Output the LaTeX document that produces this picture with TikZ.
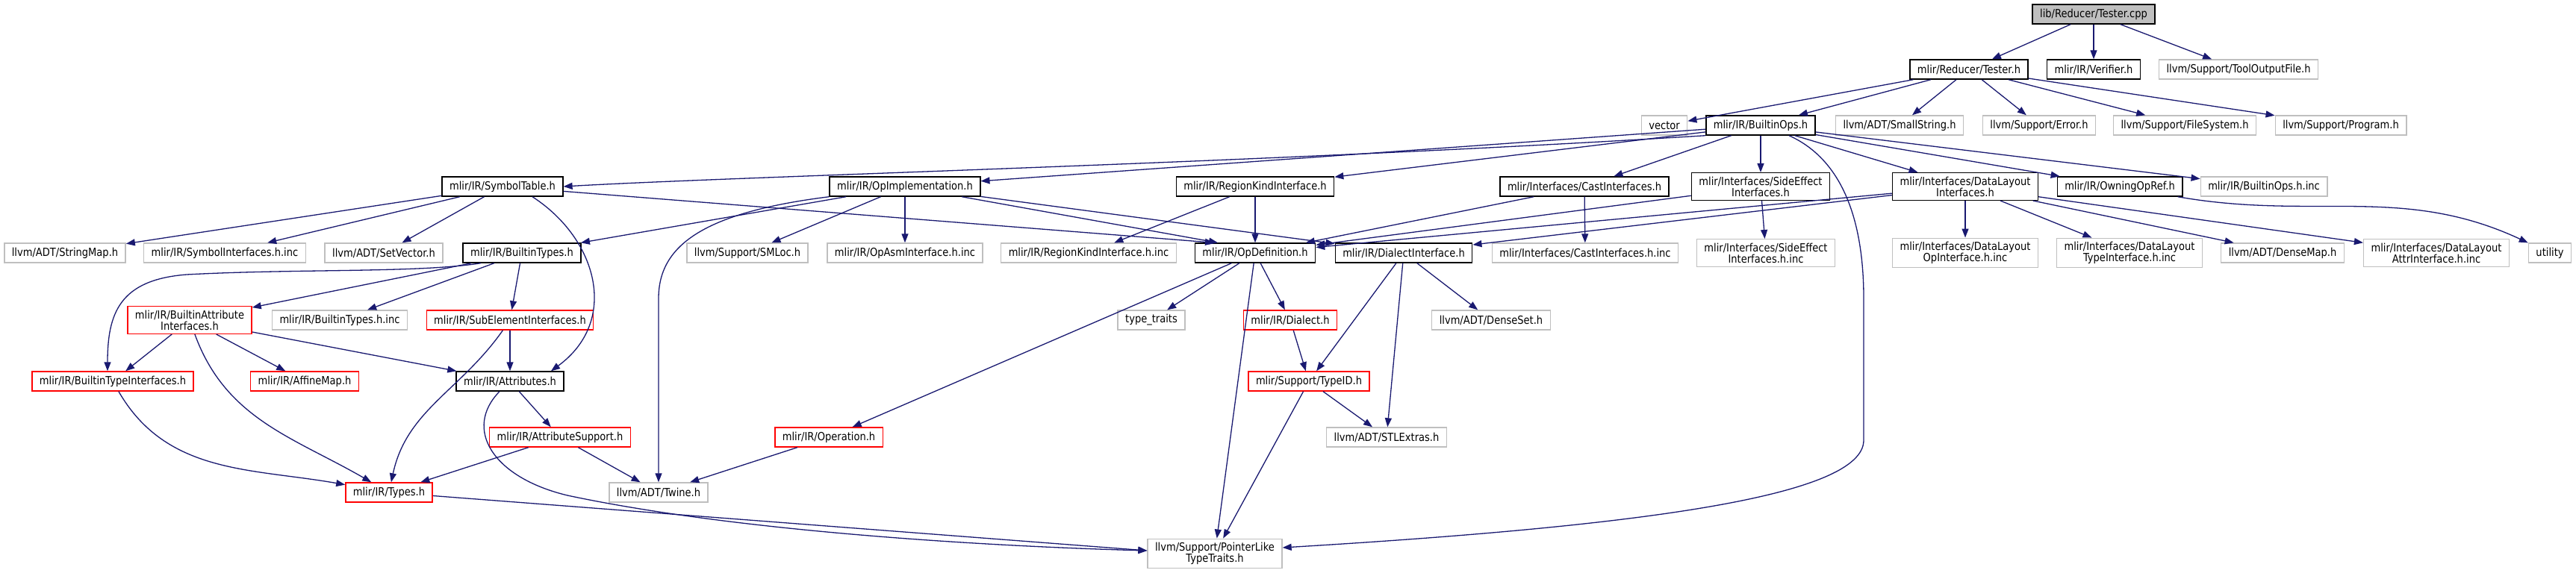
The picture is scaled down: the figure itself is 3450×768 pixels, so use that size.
\documentclass[tikz,border=0pt]{standalone}
\usepackage{fontspec}
\setmainfont{DejaVu Sans}[FakeStretch=0.87]
\usepackage{xcolor}
\usepackage{tikz}
\usetikzlibrary{arrows, arrows.meta, positioning, calc}
\definecolor{edgeblue}{HTML}{191970}
\definecolor{sysgray}{HTML}{BFBFBF}

\begin{document}
\begin{tikzpicture}[x=1pt, y=-1pt,
    fbox/.style={draw, fill=white, line width=1.4pt, minimum height=26pt, inner xsep=10pt, inner ysep=5pt, align=center, font=\fontsize{15}{15}\selectfont},
    docf/.style={fbox, draw=black},
    sysf/.style={fbox, draw=sysgray},
    truncf/.style={fbox, draw=red},
    mainf/.style={fbox, draw=black, fill=sysgray},
    dep/.style={draw=edgeblue, line width=1.3pt, -{Triangle[length=12pt,width=9pt]}}]

\useasboundingbox (0,0) rectangle (3450,768);

\node [mainf] (tcpp) at (2804,19) {lib/Reducer/Tester.cpp};

\node [docf] (testh) at (2637,93) {mlir/Reducer/Tester.h};
\node [docf] (verif) at (2804,93) {mlir/IR/Verifier.h};
\node [sysf] (toolout) at (2998,93) {llvm/Support/ToolOutputFile.h};

\node [sysf] (vec) at (2229,168) {vector};
\node [docf] (bops) at (2358,168) {mlir/IR/BuiltinOps.h};
\node [sysf] (smallstr) at (2544,168) {llvm/ADT/SmallString.h};
\node [sysf] (err) at (2731,168) {llvm/Support/Error.h};
\node [sysf] (filesys) at (2926,168) {llvm/Support/FileSystem.h};
\node [sysf] (prog) at (3135,168) {llvm/Support/Program.h};

\node [docf] (symt) at (673,250) {mlir/IR/SymbolTable.h};
\node [docf] (opimpl) at (1212,250) {mlir/IR/OpImplementation.h};
\node [docf] (regkind) at (1681,250) {mlir/IR/RegionKindInterface.h};
\node [docf] (cast) at (2122,250) {mlir/Interfaces/CastInterfaces.h};
\node [docf] (sideeff) at (2358,250) {mlir/Interfaces/SideEffect\\Interfaces.h};
\node [docf] (dlayout) at (2632,250) {mlir/Interfaces/DataLayout\\Interfaces.h};
\node [docf] (owning) at (2839,250) {mlir/IR/OwningOpRef.h};
\node [sysf] (bopsinc) at (3032,250) {mlir/IR/BuiltinOps.h.inc};

\node [sysf] (strmap) at (87,339) {llvm/ADT/StringMap.h};
\node [sysf] (syminc) at (301,339) {mlir/IR/SymbolInterfaces.h.inc};
\node [sysf] (setvec) at (514,339) {llvm/ADT/SetVector.h};
\node [docf] (btypes) at (699,339) {mlir/IR/BuiltinTypes.h};
\node [sysf] (smloc) at (1001,339) {llvm/Support/SMLoc.h};
\node [sysf] (asminc) at (1212,339) {mlir/IR/OpAsmInterface.h.inc};
\node [sysf] (reginc) at (1458,339) {mlir/IR/RegionKindInterface.h.inc};
\node [docf] (opdef) at (1681,339) {mlir/IR/OpDefinition.h};
\node [docf] (dialif) at (1880,339) {mlir/IR/DialectInterface.h};
\node [sysf] (castinc) at (2123,339) {mlir/Interfaces/CastInterfaces.h.inc};
\node [sysf] (sideinc) at (2365,339) {mlir/Interfaces/SideEffect\\Interfaces.h.inc};
\node [sysf] (dlopinc) at (2632,339) {mlir/Interfaces/DataLayout\\OpInterface.h.inc};
\node [sysf] (dltyinc) at (2852,339) {mlir/Interfaces/DataLayout\\TypeInterface.h.inc};
\node [sysf] (densemap) at (3057,339) {llvm/ADT/DenseMap.h};
\node [sysf] (dlatinc) at (3263,339) {mlir/Interfaces/DataLayout\\AttrInterface.h.inc};
\node [sysf] (util) at (3415,339) {utility};

\node [truncf] (battrif) at (254,429) {mlir/IR/BuiltinAttribute\\Interfaces.h};
\node [sysf] (btypesinc) at (455,429) {mlir/IR/BuiltinTypes.h.inc};
\node [truncf] (subelem) at (683,429) {mlir/IR/SubElementInterfaces.h};
\node [sysf] (ttraits) at (1542,429) {type\_traits};
\node [truncf] (dialect) at (1728,429) {mlir/IR/Dialect.h};
\node [sysf] (denseset) at (1997,429) {llvm/ADT/DenseSet.h};

\node [truncf] (btyif) at (151,511) {mlir/IR/BuiltinTypeInterfaces.h};
\node [truncf] (affine) at (408,511) {mlir/IR/AffineMap.h};
\node [docf] (attrs) at (683,511) {mlir/IR/Attributes.h};
\node [truncf] (typeid) at (1753,511) {mlir/Support/TypeID.h};

\node [truncf] (attrsup) at (750,586) {mlir/IR/AttributeSupport.h};
\node [truncf] (operation) at (1110,586) {mlir/IR/Operation.h};
\node [sysf] (stlext) at (1857,586) {llvm/ADT/STLExtras.h};

\node [truncf] (types) at (521,660) {mlir/IR/Types.h};
\node [sysf] (twine) at (882,660) {llvm/ADT/Twine.h};

\node [sysf] (ptrlike) at (1627,742) {llvm/Support/PointerLike\\TypeTraits.h};

\draw [dep] (tcpp) to (testh);
\draw [dep] (tcpp) to (verif);
\draw [dep] (tcpp) to (toolout);

\draw [dep] (testh) to (vec);
\draw [dep] (testh) to (bops);
\draw [dep] (testh) to (smallstr);
\draw [dep] (testh) to (err);
\draw [dep] (testh) to (filesys);
\draw [dep] (testh) to (prog);

\draw [dep] (bops.south west) .. controls (1700,218) and (1000,236) .. (symt.east);
\draw [dep] (bops) to (opimpl);
\draw [dep] (bops) to (regkind);
\draw [dep] (bops) to (cast);
\draw [dep] (bops) to (sideeff);
\draw [dep] (bops) to (dlayout);
\draw [dep] (bops) to (owning);
\draw [dep] (bops) to (bopsinc);
\draw [dep] ([xshift=38pt]bops.south) .. controls (2470,215) and (2496,300) .. (2496,400) -- (2496,590) .. controls (2496,665) and (2200,705) .. ([yshift=8pt]ptrlike.east);

\draw [dep] (symt) to (strmap);
\draw [dep] (symt) to (syminc);
\draw [dep] (symt) to (setvec);
\draw [dep] (symt) to ([xshift=-55pt]opdef.north);
\draw [dep] ([xshift=40pt]symt.south) .. controls (800,320) and (830,430) .. ([xshift=55pt]attrs.north);

\draw [dep] (opimpl) to (btypes);
\draw [dep] (opimpl.south west) .. controls (940,285) and (882,330) .. (882,400) -- (twine.north);
\draw [dep] (opimpl) to (smloc);
\draw [dep] (opimpl) to (asminc);
\draw [dep] (opimpl) to ([xshift=-50pt]opdef.north);
\draw [dep] (opimpl) to (dialif);

\draw [dep] (regkind) to (reginc);
\draw [dep] (regkind) to (opdef);
\draw [dep] (cast) to (castinc);
\draw [dep] (cast) to (opdef);
\draw [dep] (sideeff) to (sideinc);
\draw [dep] (sideeff) to (opdef);

\draw [dep] (dlayout) to (opdef);
\draw [dep] (dlayout) to (dialif);
\draw [dep] (dlayout) to (dlopinc);
\draw [dep] (dlayout) to (dltyinc);
\draw [dep] (dlayout) to (densemap);
\draw [dep] (dlayout) to (dlatinc);
\draw [dep] (owning) to[out=-10,in=155] (util);

\draw [dep] ([xshift=-55pt]btypes.south) .. controls (560,366) and (400,360) .. (250,368) .. controls (160,375) and (144,420) .. ([xshift=-7pt]btyif.north);
\draw [dep] (btypes) to (battrif);
\draw [dep] (btypes) to (btypesinc);
\draw [dep] (btypes) to (subelem);

\draw [dep] (battrif) to (btyif);
\draw [dep] (battrif) to[out=-70,in=150] (types);
\draw [dep] (battrif) to (affine);
\draw [dep] (battrif) to (attrs);
\draw [dep] (subelem) to (attrs);
\draw [dep] (subelem) to[out=-125,in=78] (types);
\draw [dep] (btyif) to[out=-60,in=170] (types);

\draw [dep] (attrs) to (attrsup);
\draw [dep] ([xshift=-14pt]attrs.south) .. controls (620,575) and (660,640) .. (760,664) .. controls (1000,715) and (1350,733) .. ([yshift=4pt]ptrlike.west);
\draw [dep] (attrsup) to (types);
\draw [dep] (attrsup) to (twine);
\draw [dep] (types) to ([yshift=4pt]ptrlike.west);
\draw [dep] (operation) to (twine);

\draw [dep] (opdef) to (operation);
\draw [dep] (opdef) to (ttraits);
\draw [dep] (opdef) to (ptrlike);
\draw [dep] (opdef) to (dialect);
\draw [dep] (dialect) to (typeid);
\draw [dep] (dialif) to (typeid);
\draw [dep] (dialif) to (stlext);
\draw [dep] (dialif) to (denseset);
\draw [dep] (typeid) to (stlext);
\draw [dep] (typeid) to (ptrlike);
\end{tikzpicture}
\end{document}
